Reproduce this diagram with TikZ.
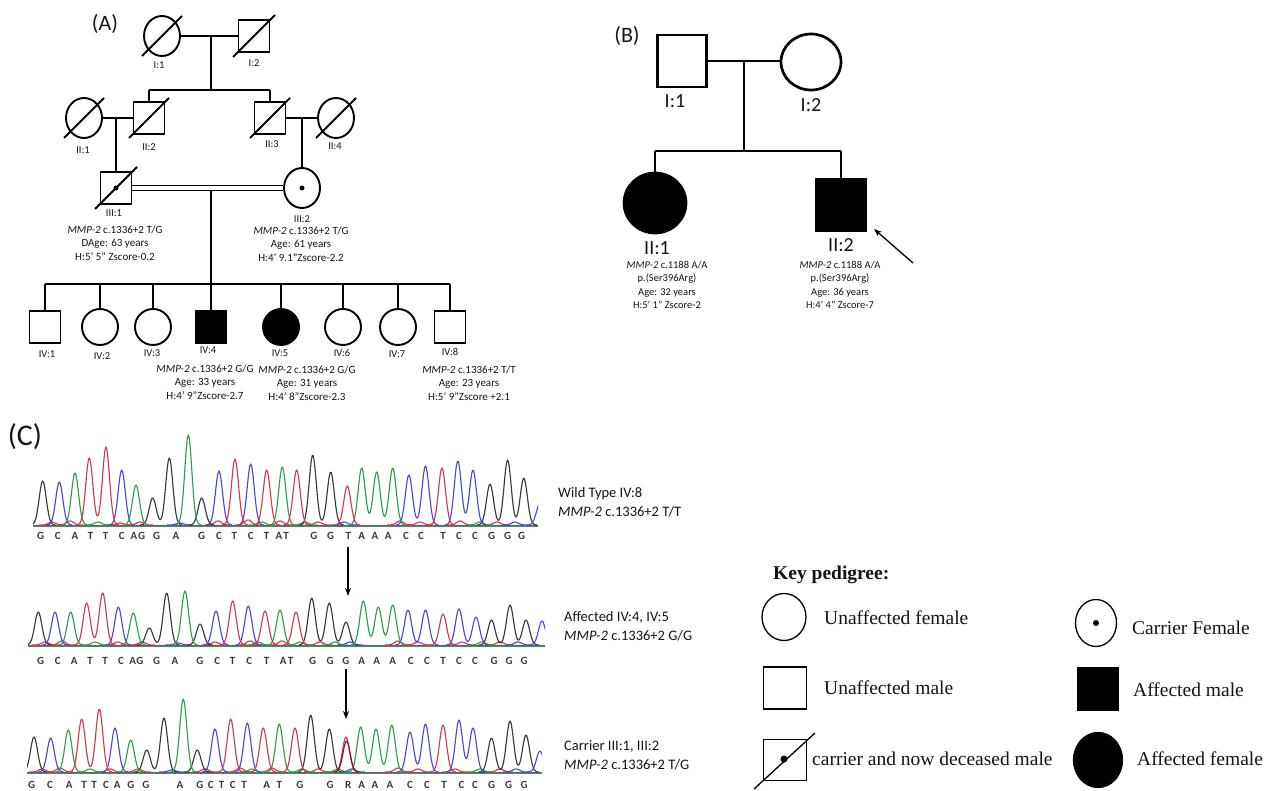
\documentclass[tikz,border=0pt]{standalone}
\usepackage{fontspec}
\setmainfont{Carlito}
\newfontfamily\timesf{Liberation Serif}
\usetikzlibrary{arrows.meta,shapes.geometric,calc}
\definecolor{cg}{HTML}{2E9E4F}
\definecolor{cr}{HTML}{D23A4E}
\definecolor{cb}{HTML}{4A4AD2}
\definecolor{ck}{HTML}{3A3A3A}
\definecolor{maroonc}{HTML}{7A1A2C}
\definecolor{txt}{HTML}{141414}
\newcommand\fsz[2]{\fontsize{#1}{#2}\selectfont}
\newcommand\pkone[4]{%
  \pgfmathsetmacro\pka{#3-13}\pgfmathsetmacro\pkb{#3+13}%
  \draw[trace,#1] plot[domain=\pka:\pkb,samples=27] (\x,{#2-#4*exp(-((\x-#3)*(\x-#3))/25)});}
\newcommand\pktwo[6]{%
  \pgfmathsetmacro\pka{#3-13}\pgfmathsetmacro\pkb{#5+13}%
  \draw[trace,#1] plot[domain=\pka:\pkb,samples=50] (\x,{#2-#4*exp(-((\x-#3)*(\x-#3))/25)-#6*exp(-((\x-#5)*(\x-#5))/25)});}
\newcommand\pkthree[8]{%
  \pgfmathsetmacro\pka{#3-13}\pgfmathsetmacro\pkb{#7+13}%
  \draw[trace,#1] plot[domain=\pka:\pkb,samples=64] (\x,{#2-#4*exp(-((\x-#3)*(\x-#3))/25)-#6*exp(-((\x-#5)*(\x-#5))/25)-#8*exp(-((\x-#7)*(\x-#7))/25)});}
\newcommand\dslash[2]{\draw[pl] ($(#1)+(-#2,#2)$) -- ($(#1)+(#2,-#2)$);}
\begin{document}
\begin{tikzpicture}[x=1pt,y=-1pt,
  trace/.style={line width=1.15pt,line join=round},
  pl/.style={line width=1.9pt},
  sqA/.style={draw,line width=1.9pt,rectangle,minimum width=31pt,minimum height=32pt,inner sep=0pt},
  ciA/.style={draw,line width=1.9pt,ellipse,minimum width=36pt,minimum height=40pt,inner sep=0pt},
  ciA4/.style={ciA,minimum height=36pt},
  dot/.style={circle,fill=black,inner sep=0pt,minimum size=5pt},
  labA/.style={font=\fsz{10.5}{12},text=txt,inner sep=0pt},
  infoA/.style={font=\fsz{11}{13.5},align=center,text=txt,inner sep=0pt},
  plB/.style={line width=2.7pt},
  sqB/.style={draw,line width=2.7pt,rectangle,minimum width=49pt,minimum height=52pt,inner sep=0pt},
  ciB/.style={draw,line width=2.7pt,ellipse,minimum width=60pt,minimum height=56pt,inner sep=0pt},
  labB/.style={font=\fsz{20}{22},text=txt,inner sep=0pt},
  infoB/.style={font=\fsz{10.5}{13.3},align=center,text=txt,inner sep=0pt},
  panel/.style={font=\fsz{22}{26},text=txt,inner sep=0pt},
  basech/.style={font=\bfseries\fsz{11}{12},text=ck,inner sep=0pt},
  seqt/.style={font=\fsz{14.5}{19},align=left,anchor=west,text=txt,inner sep=0pt},
  ksym/.style={draw,line width=1.3pt,inner sep=0pt},
  keyt/.style={font=\timesf\fsz{19.5}{22},anchor=west,text=txt,inner sep=0pt},
  arr/.style={line width=1.4pt,-{Stealth[length=8pt,width=6pt]}}
]
\useasboundingbox (0,0) rectangle (1271,791);

% ================= Pedigree A =================
\node[panel] (labA) at (105,24) {(A)};
\node[ciA] (I1) at (162,36) {};
\node[sqA] (I2) at (254,36) {};
\dslash{I1}{20}
\dslash{I2}{21}
\draw[pl] (I1.east) -- (I2.west);
\coordinate (mI) at (211,36);
\coordinate (sII) at (211,90);
\draw[pl] (mI) -- (sII);
\node[labA] (tI1) at (159,65) {I:1};
\node[labA] (tI2) at (254,63) {I:2};

\node[ciA] (II1) at (84,118) {};
\node[sqA] (II2) at (149,118) {};
\node[sqA] (II3) at (270,118) {};
\node[ciA] (II4) at (336,118) {};
\foreach \n in {II1,II2,II3,II4} {\dslash{\n}{20}}
\draw[pl] (II2.north |- sII) -- (II3.north |- sII);
\draw[pl] (II2.north |- sII) -- (II2.north);
\draw[pl] (II3.north |- sII) -- (II3.north);
\draw[pl] (II1.east) -- (II2.west);
\draw[pl] (II3.east) -- (II4.west);
\node[labA] (tII1) at (83,150) {II:1};
\node[labA] (tII2) at (149,147) {II:2};
\node[labA] (tII3) at (272,144) {II:3};
\node[labA] (tII4) at (335,146) {II:4};

\node[sqA] (III1) at (116,188) {};
\node[ciA] (III2) at (302,188) {};
\draw[pl] (III1.north |- II1.east) -- (III1.north);
\draw[pl] (III2.north |- II3.east) -- (III2.north);
\draw[line width=1.2pt,double distance=3.2pt] (III1.east) -- (III2.west);
\dslash{III1}{21}
\node[dot] (III1d) at (III1) {};
\node[dot] (III2d) at (III2) {};
\node[labA] (tIII1) at (114,213) {III:1};
\node[labA] (tIII2) at (302,219) {III:2};
\node[infoA] (iIII1) at (115,243) {\textit{MMP-2} c.1336+2 T/G\\DAge: 63 years\\H:5’ 5” Zscore-0.2};
\node[infoA] (iIII2) at (301,244) {\textit{MMP-2} c.1336+2 T/G\\Age: 61 years\\H:4’ 9.1”Zscore-2.2};

\coordinate (mIII) at (211,190.5);
\coordinate (sIV) at (211,284);
\draw[pl] (mIII) -- (sIV);
\node[sqA] (IV1) at (45,327) {};
\node[ciA4] (IV2) at (100,327) {};
\node[ciA4] (IV3) at (153,327) {};
\node[sqA,fill=black] (IV4) at (211,327) {};
\node[ciA4,fill=black] (IV5) at (281,327) {};
\node[ciA4] (IV6) at (343,327) {};
\node[ciA4] (IV7) at (398,327) {};
\node[sqA] (IV8) at (450,327) {};
\draw[pl] (IV1.north |- sIV) -- (IV8.north |- sIV);
\foreach \n in {IV1,IV2,IV3,IV4,IV5,IV6,IV7,IV8} {\draw[pl] (\n.north |- sIV) -- (\n.north);}
\node[labA] (tIV1) at (47,354) {IV:1};
\node[labA] (tIV2) at (102,356) {IV:2};
\node[labA] (tIV3) at (152,353) {IV:3};
\node[labA] (tIV4) at (208,350) {IV:4};
\node[labA] (tIV5) at (280,353) {IV:5};
\node[labA] (tIV6) at (342,353) {IV:6};
\node[labA] (tIV7) at (397,354) {IV:7};
\node[labA] (tIV8) at (450,352) {IV:8};
\node[infoA] (iIV4) at (205,382) {\textit{MMP-2} c.1336+2 G/G\\Age: 33 years\\H:4’ 9”Zscore-2.7};
\node[infoA] (iIV5) at (307,383) {\textit{MMP-2} c.1336+2 G/G\\Age: 31 years\\H:4’ 8”Zscore-2.3};
\node[infoA] (iIV8) at (469,383) {\textit{MMP-2} c.1336+2 T/T\\Age: 23 years\\H:5’ 9”Zscore +2.1};

% ================= Pedigree B =================
\node[panel] (labB) at (627,36) {(B)};
\node[sqB] (BI1) at (682,61) {};
\node[ciB] (BI2) at (811,62) {};
\draw[plB] (BI1.east) -- (BI1.east -| BI2.west);
\coordinate (mB) at (744,61);
\coordinate (sB) at (744,151);
\draw[plB] (mB) -- (sB);
\node[ciB,fill=black,minimum width=62pt,minimum height=60pt] (BII1) at (655,203) {};
\node[sqB,fill=black] (BII2) at (841,205) {};
\draw[plB] (BII1.north |- sB) -- (BII2.north |- sB);
\draw[plB] (BII1.north |- sB) -- (BII1.north);
\draw[plB] (BII2.north |- sB) -- (BII2.north);
\node[labB] (tBI1) at (675,101) {I:1};
\node[labB] (tBI2) at (811,105) {I:2};
\node[labB] (tBII1) at (657,248) {II:1};
\node[labB] (tBII2) at (841,245) {II:2};
\node[infoB] (iBII1) at (667,285) {\textit{MMP-2} c.1188 A/A\\p.(Ser396Arg)\\Age: 32 years\\H:5’ 1” Zscore-2};
\node[infoB] (iBII2) at (840,285) {\textit{MMP-2} c.1188 A/A\\p.(Ser396Arg)\\Age: 36 years\\H:4’ 4” Zscore-7};
\coordinate (arS) at (913,263);
\coordinate (arE) at (874,229);
\draw[arr,line width=1.3pt] (arS) -- (arE);

% ================= Panel C =================
\node[font=\fsz{30}{34},text=txt,inner sep=0pt] (labC) at (25,437) {(C)};

% --- chromatogram 1 (wild type)
\begin{scope}
\clip (33,420) rectangle (538,530);
\draw[cr!55!cb,line width=0.9pt] (33,525) -- (538,525);
\draw[cg,line width=0.5pt] (33,525.8) -- (538,525.8);
\foreach \c/\h in {52/3,70/4,120/2,140/3,218/4,248/5,280/4,318/3,400/4,420/3,460/4,497/3} {\pkone{cr}{525}{\c}{\h}}
\foreach \c/\h in {98/3,262/3,305/3,480/3} {\pkone{cg}{525}{\c}{\h}}
\foreach \c/\h in {180/2,344/3,515/3} {\pkone{cb}{525}{\c}{\h}}
\pkone{ck}{525}{42.7}{44}
\pkone{ck}{525}{201.7}{27}
\pktwo{ck}{525}{152.7}{27}{169.3}{67}
\pktwo{ck}{525}{312.7}{70}{330.7}{53}
\pkthree{ck}{525}{490}{41}{507.6}{65}{523.8}{47}
\pkone{cb}{525}{59.3}{43}
\pkone{cb}{525}{121.7}{55}
\pkone{cb}{525}{219}{54}
\pkone{cb}{525}{250.7}{61}
\pktwo{cb}{525}{408.9}{50}{425.5}{59}
\pktwo{cb}{525}{457.8}{64}{473}{55}
\pkone{cb}{525}{540}{22}
\pkone{cg}{525}{75}{52}
\pkone{cg}{525}{136}{40}
\pkone{cg}{525}{188.3}{90}
\pkone{cg}{525}{282.3}{58}
\pkthree{cg}{525}{361.7}{57}{376.7}{53}{392.7}{57}
\pktwo{cr}{525}{89.3}{67}{106}{78}
\pkone{cr}{525}{235}{66}
\pkone{cr}{525}{266.7}{55}
\pkone{cr}{525}{296.7}{55}
\pkone{cr}{525}{347.3}{39}
\pkone{cr}{525}{442}{57}
\end{scope}
\foreach \p/\l [count=\i] in {40.7/G,57.7/C,75/A,90.7/T,105.7/T,121.7/C,134/A,141.7/G,156.7/G,176/A,201.7/G,219/C,234.3/T,250.7/C,266.7/T,279/A,286/T,314/G,330.7/G,348.3/T,361.7/A,375/A,388.3/A,406/C,421/C,443/T,459/C,475/C,491.5/G,507.6/G,521.5/G}
  {\node[basech] (sa\i) at (\p,536) {\l};}
\node[seqt] (wt) at (558,502.5) {Wild Type IV:8\\\textit{MMP-2} c.1336+2 T/T};

% --- chromatogram 2 (affected)
\begin{scope}
\clip (28,560) rectangle (545,650);
\draw[cr!55!cb,line width=0.9pt] (28,645) -- (545,645);
\draw[cg,line width=0.5pt] (28,645.8) -- (545,645.8);
\foreach \c/\h in {45/3,62/4,118/3,142/3,215/3,250/4,282/4,320/3,398/4,418/3,462/3,500/3} {\pkone{cr}{645}{\c}{\h}}
\foreach \c/\h in {95/3,258/3,300/3,335/3,482/3} {\pkone{cg}{645}{\c}{\h}}
\foreach \c/\h in {178/2,350/3,518/3} {\pkone{cb}{645}{\c}{\h}}
\pkone{ck}{645}{38.3}{33}
\pkone{ck}{645}{200}{21}
\pktwo{ck}{645}{149.3}{17}{166.7}{52}
\pkthree{ck}{645}{311.7}{47}{329.3}{42}{346}{23}
\pkthree{ck}{645}{491.5}{25}{510}{40}{526}{25}
\pkone{cb}{645}{55}{33}
\pkone{cb}{645}{118.3}{38}
\pkone{cb}{645}{216}{34}
\pkone{cb}{645}{248.3}{39}
\pktwo{cb}{645}{408}{35}{425.5}{35}
\pktwo{cb}{645}{459}{36}{476}{28}
\pkone{cb}{645}{542}{24}
\pkone{cg}{645}{70.7}{33}
\pkone{cg}{645}{133.3}{32}
\pkone{cg}{645}{185}{54}
\pkone{cg}{645}{280}{35}
\pkthree{cg}{645}{363.3}{44}{378.3}{38}{392.7}{40}
\pktwo{cr}{645}{86.7}{42}{102.7}{52}
\pkone{cr}{645}{232.7}{44}
\pkone{cr}{645}{265}{34}
\pkone{cr}{645}{296}{33}
\pkone{cr}{645}{443}{31}
\end{scope}
\foreach \p/\l [count=\i] in {40.7/G,57.7/C,74.3/A,90/T,105/T,121/C,132.7/A,140/G,156.7/G,175/A,200/G,217.3/C,232.7/T,249.3/C,266.7/T,283.3/A,290.7/T,312.7/G,330/G,346/G,361.7/A,376.7/A,392.7/A,410.7/C,427/C,443/T,459/C,475/C,494/G,509/G,524/G}
  {\node[basech] (sb\i) at (\p,661) {\l};}
\begin{scope}
\clip (540,590) rectangle (692,650);
\node[seqt] (aff) at (564,626) {Affected IV:4, IV:5\\\textit{MMP-2} c.1336+2 G/G};
\end{scope}

% --- chromatogram 3 (carrier)
\begin{scope}
\clip (27,690) rectangle (542,777);
\draw[cr!55!cb,line width=0.9pt] (27,772) -- (542,772);
\draw[cg,line width=0.5pt] (27,772.8) -- (542,772.8);
\foreach \c/\h in {42/3,60/4,110/3,138/3,205/3,240/4,272/4,318/3,398/4,418/3,455/3,500/3} {\pkone{cr}{772}{\c}{\h}}
\foreach \c/\h in {90/3,252/3,302/3,338/3,480/3} {\pkone{cg}{772}{\c}{\h}}
\foreach \c/\h in {172/2,352/3,516/3} {\pkone{cb}{772}{\c}{\h}}
\pkone{ck}{772}{34}{35}
\pkone{ck}{772}{197.3}{22}
\pktwo{ck}{772}{146.7}{22}{164}{54}
\pktwo{ck}{772}{310.7}{57}{329.3}{43}
\pkthree{ck}{772}{491.5}{34}{510}{51}{526}{37}
\pkone{cb}{772}{50.7}{34}
\pkone{cb}{772}{115}{44}
\pkone{cb}{772}{215}{43}
\pkone{cb}{772}{247.3}{49}
\pktwo{cb}{772}{410}{40}{425.5}{48}
\pktwo{cb}{772}{459}{52}{473}{44}
\pkone{cb}{772}{540}{21}
\pkone{cg}{772}{68.3}{42}
\pkone{cg}{772}{130.7}{32}
\pkone{cg}{772}{183.3}{73}
\pkone{cg}{772}{279.3}{48}
\pkthree{cg}{772}{360.7}{45}{376}{43}{391.7}{47}
\pktwo{cr}{772}{81.7}{53}{99.3}{63}
\pkone{cr}{772}{230.7}{53}
\pkone{cr}{772}{263.3}{44}
\pkone{cr}{772}{295}{44}
\pkone{cr}{772}{443}{47}
\pkone{cr}{772}{346}{35}
\pkone{maroonc}{772}{346.5}{31}
\end{scope}
\foreach \p/\l [count=\i] in {31.7/G,50/C,69.3/A,84/T,94/T,106/C,117.3/A,131/G,146/G,180/A,200/G,210.7/C,221.7/T,232.7/C,244/T,266.7/A,279.3/T,300/G,330/G,348.3/R,361.7/A,375/A,390/A,410/C,427/C,444/T,461.5/C,475/C,491.5/G,508.5/G,524/G}
  {\node[basech] (sc\i) at (\p,785) {\l};}
\node[seqt] (car) at (564,755) {Carrier III:1, III:2\\\textit{MMP-2} c.1336+2 T/G};

% arrows between chromatograms
\coordinate (a1s) at (348,547);
\coordinate (a1e) at (348,596);
\coordinate (a2s) at (346,669);
\coordinate (a2e) at (346,719);
\draw[arr] (a1s) -- (a1e);
\draw[arr] (a2s) -- (a2e);

% ================= Key =================
\node[font=\timesf\bfseries\fsz{19.5}{22},anchor=west,text=txt,inner sep=0pt] (keyT) at (773,575) {Key pedigree:};
\node[ksym,ellipse,minimum width=44pt,minimum height=47pt] (K1) at (784,617) {};
\node[keyt] (K1t) at (824,618) {Unaffected female};
\node[ksym,ellipse,minimum width=41pt,minimum height=47pt] (K2) at (1096,623) {};
\node[dot,minimum size=6pt] (K2d) at (K2) {};
\node[keyt] (K2t) at (1132,628) {Carrier Female};
\node[ksym,rectangle,minimum width=43pt,minimum height=42pt] (K3) at (785,688) {};
\node[keyt] (K3t) at (824,688) {Unaffected male};
\node[ksym,rectangle,fill=black,minimum width=41pt,minimum height=43pt] (K4) at (1098,689) {};
\node[keyt] (K4t) at (1133,690) {Affected male};
\node[ksym,rectangle,minimum width=43pt,minimum height=41pt] (K5) at (785,760) {};
\draw[line width=1.3pt] ($(K5)+(-31,29)$) -- ($(K5)+(30,-27)$);
\node[dot,minimum size=7pt] (K5d) at (784,759) {};
\node[keyt] (K5t) at (812,759) {carrier and now deceased male};
\node[ksym,ellipse,fill=black,minimum width=49pt,minimum height=55pt] (K6) at (1098,760) {};
\node[keyt] (K6t) at (1137,759) {Affected female};
\end{tikzpicture}
\end{document}
